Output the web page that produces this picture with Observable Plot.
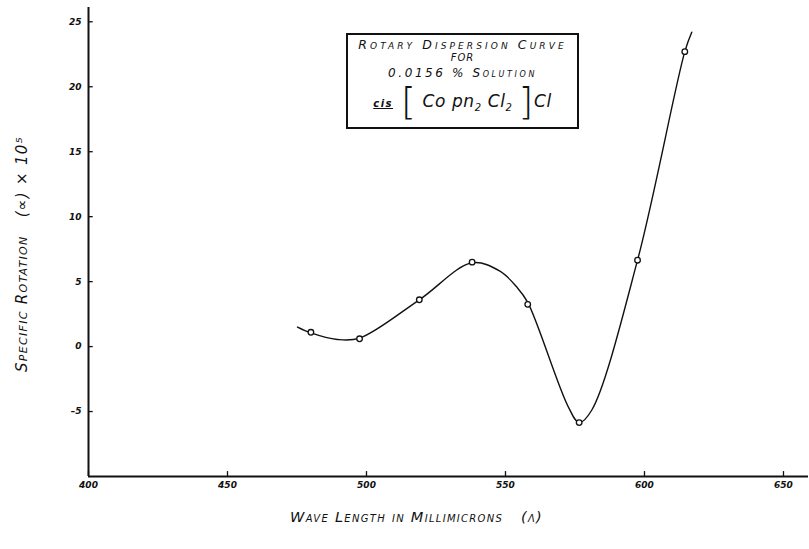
<!DOCTYPE html>
<html>
<head>
<meta charset="utf-8">
<script src="https://cdn.jsdelivr.net/npm/d3@7"></script>
<script src="https://cdn.jsdelivr.net/npm/@observablehq/plot@0.6"></script>
<style>
  html, body { margin: 0; padding: 0; background: #fff; }
  #wrap { position: relative; width: 809px; height: 549px; overflow: hidden; }
  #note {
    position: absolute; left: 346px; top: 33px; width: 229px; height: 92px;
    border: 2px solid #111; box-sizing: content-box;
    font-family: "DejaVu Sans", sans-serif; font-style: italic; color: #111;
    text-align: center; font-variant: small-caps;
  }
  #note .l1 { position: absolute; left: 0; right: 0; top: 2px; font-size: 12.5px; letter-spacing: 3.1px; white-space: nowrap; }
  #note .l2 { position: absolute; left: 0; right: 0; top: 17px; font-size: 10px; letter-spacing: 1px; font-variant: normal; }
  #note .l3 { position: absolute; left: 0; right: 0; top: 31px; font-size: 12px; letter-spacing: 2.6px; white-space: nowrap; }
  #note .l4 { position: absolute; left: 0; right: 0; top: 44px; font-size: 17px; font-variant: normal; letter-spacing: 0.6px; white-space: nowrap; }
  #note .l4 .br { font-size: 38px; font-style: normal; font-weight: 200; vertical-align: -7px; }
  #note .l4 .cis { font-size: 10px; text-decoration: underline; letter-spacing: 1.5px; font-weight: bold; margin-right: 8px; }
  #note .l4 sub { font-size: 10px; }
</style>
</head>
<body>
<div id="wrap"></div>
<script>
// Wavelength (millimicrons) of measured points
const wavelength = [480, 497.5, 519, 538, 558, 576.5, 597.5, 614.5];
// Specific rotation (alpha) x 10^5 at those wavelengths
const rotation = [1.1, 0.6, 3.6, 6.5, 3.25, -5.85, 6.65, 22.7];

// Hand-drawn smooth curve, knots
const curveX = [475.2, 480, 489.5, 497.5, 519, 538, 548, 554, 558, 572.5, 576.5, 581, 597.5, 614.5, 617];
const curveY = [1.5, 1.05, 0.55, 0.65, 3.6, 6.45, 5.8, 4.6, 3.4, -4.6, -5.85, -4.9, 6.65, 22.7, 24.2];

// Axis ticks
const xTicks = [400, 450, 500, 550, 600, 650];
const yTicks = [-5, 0, 5, 10, 15, 20, 25];

const points = wavelength.map((w, i) => ({w, r: rotation[i]}));
const curve = curveX.map((w, i) => ({w, r: curveY[i]}));

const xLabel = "Wave Length in Millimicrons   (λ)";
const yLabel = "Specific Rotation   (∝) × 10⁵";

const chart = Plot.plot({
  width: 809,
  height: 549,
  marginLeft: 88,
  marginRight: 1,
  marginTop: 7,
  marginBottom: 73,
  style: {fontFamily: "DejaVu Sans, sans-serif", fontStyle: "italic", background: "#fff", color: "#111"},
  x: {domain: [400, 659], ticks: xTicks, tickSize: 0, tickPadding: 5, tickFormat: d => String(d), label: null},
  y: {domain: [-10, 26.1], ticks: yTicks, tickSize: 0, tickPadding: 7, tickFormat: d => d < 0 ? "–" + Math.abs(d) : String(d), label: null},
  marks: [
    Plot.ruleY([-10], {stroke: "#111", strokeWidth: 2}),
    Plot.ruleX([400], {stroke: "#111", strokeWidth: 2}),
    Plot.ruleX(xTicks, {y1: -10, y2: -9.62, stroke: "#111", strokeWidth: 1.3}),
    Plot.ruleY(yTicks, {x1: 400, x2: 401.7, stroke: "#111", strokeWidth: 1.3}),
    Plot.line(curve, {x: "w", y: "r", curve: "catmull-rom", stroke: "#111", strokeWidth: 1.4}),
    Plot.dot(points, {x: "w", y: "r", r: 2.8, stroke: "#111", strokeWidth: 1.3, fill: "#fff"}),
    Plot.text([xLabel], {frameAnchor: "bottom", dx: -32, dy: 45, fontSize: 14.5, fontVariant: "small-caps", fontStyle: "italic", fill: "#111", text: d => d, textAnchor: "middle"}),
    Plot.text([yLabel], {frameAnchor: "left", dx: -66, dy: 12, rotate: -90, fontSize: 15, fontVariant: "small-caps", fontStyle: "italic", fill: "#111", text: d => d, textAnchor: "middle"})
  ]
});

d3.select(chart).selectAll("g[aria-label^='x-axis'] text, g[aria-label^='y-axis'] text")
  .style("font-weight", "bold").style("font-size", "9px");
d3.select(chart).selectAll("text").filter(function() { return this.textContent === xLabel || this.textContent === yLabel; })
  .style("letter-spacing", "1.3px");

const wrap = document.getElementById("wrap");
wrap.appendChild(chart);

const note = document.createElement("div");
note.id = "note";
note.innerHTML = `
  <div class="l1">Rotary Dispersion Curve</div>
  <div class="l2">FOR</div>
  <div class="l3">0.0156 % Solution</div>
  <div class="l4"><span class="cis">cis</span><span class="br">[</span> Co pn<sub>2</sub> Cl<sub>2</sub> <span class="br">]</span>Cl</div>`;
wrap.appendChild(note);
</script>
</body>
</html>
